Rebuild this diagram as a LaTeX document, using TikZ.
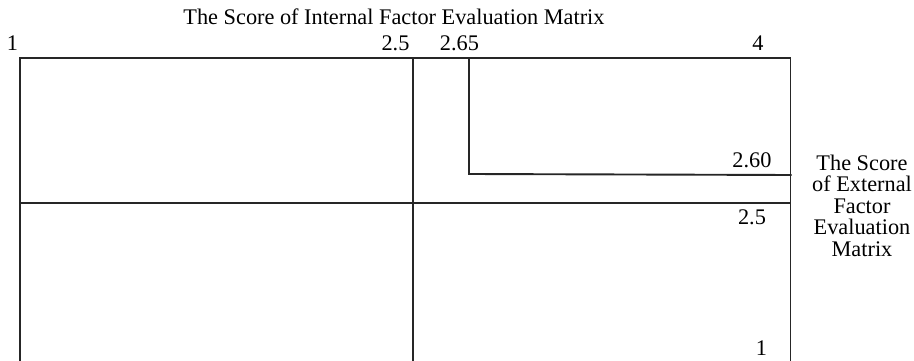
\documentclass[tikz,border=0pt]{standalone}
\usepackage{fontspec}
\setmainfont{Liberation Serif}
\begin{document}
\begin{tikzpicture}[x=1pt,y=-1pt,
  lbl/.style={inner sep=0pt,anchor=base,font=\fontsize{22.3}{22.3}\selectfont},
  grid/.style={line width=1.1pt,black!85},
  thick2/.style={line width=1.9pt,black!85}]
\useasboundingbox (0,0) rectangle (914,361);
\coordinate (tl) at (20,58);
\coordinate (tr) at (790.5,58);
\coordinate (bl) at (20,366);
\coordinate (br) at (790.5,366);
\coordinate (mt) at (413,58);
\coordinate (mb) at (413,366);
\coordinate (ml) at (20,203);
\coordinate (mr) at (790.5,203);
\coordinate (pt) at (469,58);
\coordinate (pc) at (469,174);
\coordinate (pr) at (791.5,175);
\draw[grid] (bl) -- (tl) -- (tr) -- (br);
\draw[grid] (mt) -- (mb);
\draw[grid] (ml) -- (mr);
\draw[thick2] (pt) -- (pc) -- (pr);
\node[lbl] (title) at (394,25) {The Score of Internal Factor Evaluation Matrix};
\node[lbl] (n1) at (12.5,51) {1};
\node[lbl] (n25) at (395.5,51) {2.5};
\node[lbl] (n265) at (459.5,51) {2.65};
\node[lbl] (n4) at (758,51) {4};
\node[lbl] (n260) at (752,167) {2.60};
\node[lbl] (m25) at (752,224) {2.5};
\node[lbl] (m1) at (761.5,355) {1};
\node[lbl] (e1) at (862,170) {The Score};
\node[lbl] (e2) at (862,191.5) {of External};
\node[lbl] (e3) at (862,213) {Factor};
\node[lbl] (e4) at (862,234.5) {Evaluation};
\node[lbl] (e5) at (862,256) {Matrix};
\end{tikzpicture}
\end{document}
